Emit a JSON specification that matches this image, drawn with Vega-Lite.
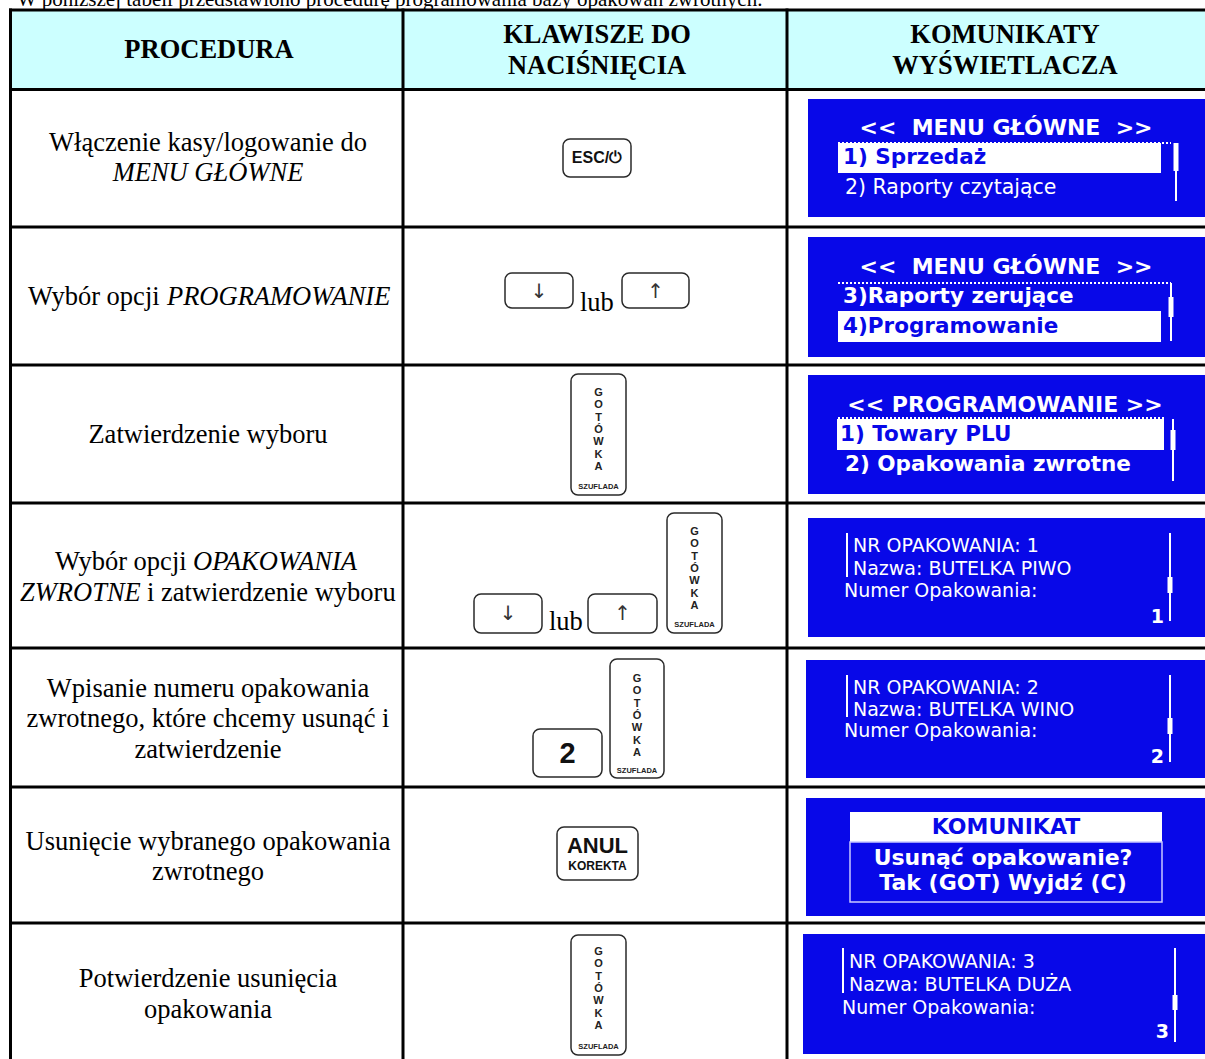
{
  "$schema": "https://vega.github.io/schema/vega-lite/v6.json",
  "width": 1205,
  "height": 1059,
  "autosize": {"type": "none"},
  "padding": 0,
  "background": "white",
  "config": {"view": {"stroke": null}},
  "datasets": {
    "header": [{"x": 10, "x2": 1205, "y": 10, "y2": 89}],
    "grid": [
      {"x": 9, "x2": 1205, "y": 10, "y2": 10},
      {"x": 9, "x2": 1205, "y": 89.5, "y2": 89.5},
      {"x": 9, "x2": 1205, "y": 227, "y2": 227},
      {"x": 9, "x2": 1205, "y": 365, "y2": 365},
      {"x": 9, "x2": 1205, "y": 503, "y2": 503},
      {"x": 9, "x2": 1205, "y": 648, "y2": 648},
      {"x": 9, "x2": 1205, "y": 787, "y2": 787},
      {"x": 9, "x2": 1205, "y": 923, "y2": 923},
      {"x": 10.5, "x2": 10.5, "y": 8.5, "y2": 1060},
      {"x": 403, "x2": 403, "y": 8.5, "y2": 1060},
      {"x": 787, "x2": 787, "y": 8.5, "y2": 1060}
    ],
    "screens": [
      {"x": 808, "x2": 1205, "y": 99, "y2": 217},
      {"x": 808, "x2": 1205, "y": 237, "y2": 357},
      {"x": 808, "x2": 1205, "y": 375, "y2": 494},
      {"x": 808, "x2": 1205, "y": 518, "y2": 637},
      {"x": 806, "x2": 1205, "y": 660, "y2": 778},
      {"x": 806, "x2": 1205, "y": 798, "y2": 916},
      {"x": 803, "x2": 1205, "y": 934, "y2": 1054}
    ],
    "bars": [
      {"x": 838, "x2": 1161, "y": 143, "y2": 173},
      {"x": 838, "x2": 1161, "y": 311, "y2": 342},
      {"x": 837, "x2": 1164, "y": 419, "y2": 450},
      {"x": 850, "x2": 1162, "y": 812, "y2": 842}
    ],
    "outline": [{"x": 850, "x2": 1162, "y": 842, "y2": 902}],
    "dotted": [
      {"x": 838, "x2": 1171, "y": 143, "y2": 143},
      {"x": 838, "x2": 1171, "y": 283, "y2": 283},
      {"x": 838, "x2": 1164, "y": 418, "y2": 418}
    ],
    "thin": [
      {"x": 1176, "x2": 1176, "y": 143, "y2": 201},
      {"x": 1171, "x2": 1171, "y": 283, "y2": 341},
      {"x": 1173, "x2": 1173, "y": 419, "y2": 481},
      {"x": 847, "x2": 847, "y": 533, "y2": 577},
      {"x": 1170, "x2": 1170, "y": 533, "y2": 621},
      {"x": 847, "x2": 847, "y": 675, "y2": 717},
      {"x": 1170, "x2": 1170, "y": 675, "y2": 762},
      {"x": 843, "x2": 843, "y": 948, "y2": 993},
      {"x": 1175, "x2": 1175, "y": 948, "y2": 1042}
    ],
    "thick": [
      {"x": 1176, "x2": 1176, "y": 143, "y2": 171},
      {"x": 1171, "x2": 1171, "y": 297, "y2": 317},
      {"x": 1173, "x2": 1173, "y": 430, "y2": 450},
      {"x": 1170, "x2": 1170, "y": 577, "y2": 593},
      {"x": 1170, "x2": 1170, "y": 718, "y2": 734},
      {"x": 1175, "x2": 1175, "y": 995, "y2": 1010}
    ],
    "keys": [
      {"x": 563, "x2": 631, "y": 139, "y2": 177},
      {"x": 505, "x2": 573, "y": 273, "y2": 308},
      {"x": 622, "x2": 689, "y": 273, "y2": 308},
      {"x": 571, "x2": 626, "y": 374, "y2": 495},
      {"x": 474, "x2": 542, "y": 594, "y2": 633},
      {"x": 588, "x2": 657, "y": 594, "y2": 633},
      {"x": 667, "x2": 722, "y": 513, "y2": 633},
      {"x": 533, "x2": 602, "y": 729, "y2": 777},
      {"x": 610, "x2": 664, "y": 659, "y2": 778},
      {"x": 557, "x2": 638, "y": 827, "y2": 880},
      {"x": 571, "x2": 626, "y": 935, "y2": 1055}
    ],
    "caption": [{"x": 17, "y": 6, "t": "W poniższej tabeli przedstawiono procedurę programowania bazy opakowań zwrotnych."}],
    "headText": [
      {"x": 209, "y": 50, "t": "PROCEDURA"},
      {"x": 597, "y": 35, "t": "KLAWISZE DO"},
      {"x": 597, "y": 66, "t": "NACIŚNIĘCIA"},
      {"x": 1005, "y": 35, "t": "KOMUNIKATY"},
      {"x": 1005, "y": 66, "t": "WYŚWIETLACZA"}
    ],
    "bodyCenter": [
      {"x": 208, "y": 143, "t": "Włączenie kasy/logowanie do"},
      {"x": 208, "y": 435, "t": "Zatwierdzenie wyboru"},
      {"x": 208, "y": 689, "t": "Wpisanie numeru opakowania"},
      {"x": 208, "y": 719, "t": "zwrotnego, które chcemy usunąć i"},
      {"x": 208, "y": 750, "t": "zatwierdzenie"},
      {"x": 208, "y": 842, "t": "Usunięcie wybranego opakowania"},
      {"x": 208, "y": 872, "t": "zwrotnego"},
      {"x": 208, "y": 979, "t": "Potwierdzenie usunięcia"},
      {"x": 208, "y": 1010, "t": "opakowania"}
    ],
    "bodyItalicCenter": [{"x": 208, "y": 173, "t": "MENU GŁÓWNE"}],
    "bodyLeft": [
      {"x": 28, "y": 297, "t": "Wybór opcji"},
      {"x": 55, "y": 562, "t": "Wybór opcji"},
      {"x": 147, "y": 593, "t": "i zatwierdzenie wyboru"},
      {"x": 580, "y": 303, "t": "lub"},
      {"x": 549, "y": 622, "t": "lub"}
    ],
    "bodyItalicLeft": [
      {"x": 167, "y": 297, "t": "PROGRAMOWANIE"},
      {"x": 193, "y": 562, "t": "OPAKOWANIA"},
      {"x": 20, "y": 593, "t": "ZWROTNE"}
    ],
    "screenTitle": [
      {"x": 1006, "y": 128, "t": "<<\u00a0 MENU GŁÓWNE \u00a0>>"},
      {"x": 1006, "y": 267, "t": "<<\u00a0 MENU GŁÓWNE \u00a0>>"},
      {"x": 1005, "y": 405, "t": "<< PROGRAMOWANIE >>"},
      {"x": 1003, "y": 858, "t": "Usunąć opakowanie?"},
      {"x": 1003, "y": 883, "t": "Tak (GOT) Wyjdź (C)"}
    ],
    "screenBlueCenter": [{"x": 1006, "y": 827, "t": "KOMUNIKAT"}],
    "screenBlueLeft": [
      {"x": 843, "y": 158, "t": "1) Sprzedaż"},
      {"x": 843, "y": 327, "t": "4)Programowanie"},
      {"x": 840, "y": 435, "t": "1) Towary PLU"}
    ],
    "screenWhiteBoldLeft": [
      {"x": 843, "y": 297, "t": "3)Raporty zerujące"},
      {"x": 845, "y": 465, "t": "2) Opakowania zwrotne"}
    ],
    "screenMenuLeft": [
      {"x": 845, "y": 188, "t": "2) Raporty czytające"}
    ],
    "screenWhiteLeft": [
      {"x": 853, "y": 546, "t": "NR OPAKOWANIA: 1"},
      {"x": 853, "y": 569, "t": "Nazwa: BUTELKA PIWO"},
      {"x": 844, "y": 591, "t": "Numer Opakowania:"},
      {"x": 853, "y": 688, "t": "NR OPAKOWANIA: 2"},
      {"x": 853, "y": 710, "t": "Nazwa: BUTELKA WINO"},
      {"x": 844, "y": 731, "t": "Numer Opakowania:"},
      {"x": 849, "y": 962, "t": "NR OPAKOWANIA: 3"},
      {"x": 849, "y": 985, "t": "Nazwa: BUTELKA DUŻA"},
      {"x": 842, "y": 1008, "t": "Numer Opakowania:"}
    ],
    "screenDigits": [
      {"x": 1164, "y": 617, "t": "1"},
      {"x": 1164, "y": 757, "t": "2"},
      {"x": 1169, "y": 1032, "t": "3"}
    ],
    "keyEsc": [{"x": 597, "y": 158, "t": "ESC/⏻"}],
    "keyArrows": [
      {"x": 539, "y": 292, "t": "↓"},
      {"x": 655.5, "y": 292, "t": "↑"},
      {"x": 508, "y": 614, "t": "↓"},
      {"x": 622.5, "y": 614, "t": "↑"}
    ],
    "keyBig": [{"x": 567.5, "y": 754, "t": "2"}],
    "keyAnul": [{"x": 597.5, "y": 846, "t": "ANUL"}],
    "keySmall": [{"x": 597.5, "y": 866, "t": "KOREKTA"}],
    "gotLetters": [
      {"x": 598.5, "y": 393, "t": "G\nO\nT\nÓ\nW\nK\nA"},
      {"x": 694.5, "y": 532, "t": "G\nO\nT\nÓ\nW\nK\nA"},
      {"x": 637, "y": 679, "t": "G\nO\nT\nÓ\nW\nK\nA"},
      {"x": 598.5, "y": 952, "t": "G\nO\nT\nÓ\nW\nK\nA"}
    ],
    "szuflada": [
      {"x": 598.5, "y": 487, "t": "SZUFLADA"},
      {"x": 694.5, "y": 625, "t": "SZUFLADA"},
      {"x": 637, "y": 771, "t": "SZUFLADA"},
      {"x": 598.5, "y": 1047, "t": "SZUFLADA"}
    ]
  },
  "encoding": {
    "x": {"field": "x", "type": "quantitative", "scale": {"domain": [0, 1205], "nice": false, "zero": false}, "axis": null},
    "y": {"field": "y", "type": "quantitative", "scale": {"domain": [0, 1059], "reverse": true, "nice": false, "zero": false}, "axis": null}
  },
  "layer": [
    {"data": {"name": "header"}, "mark": {"type": "rect", "fill": "#ccffff"}, "encoding": {"x2": {"field": "x2"}, "y2": {"field": "y2"}}},
    {"data": {"name": "screens"}, "mark": {"type": "rect", "fill": "#0808e8"}, "encoding": {"x2": {"field": "x2"}, "y2": {"field": "y2"}}},
    {"data": {"name": "bars"}, "mark": {"type": "rect", "fill": "#ffffff"}, "encoding": {"x2": {"field": "x2"}, "y2": {"field": "y2"}}},
    {"data": {"name": "outline"}, "mark": {"type": "rect", "fill": null, "stroke": "#c8c8ff", "strokeWidth": 1.5}, "encoding": {"x2": {"field": "x2"}, "y2": {"field": "y2"}}},
    {"data": {"name": "dotted"}, "mark": {"type": "rule", "color": "#ffffff", "strokeWidth": 2, "strokeDash": [2, 2]}, "encoding": {"x2": {"field": "x2"}, "y2": {"field": "y2"}}},
    {"data": {"name": "thin"}, "mark": {"type": "rule", "color": "#ffffff", "strokeWidth": 2}, "encoding": {"x2": {"field": "x2"}, "y2": {"field": "y2"}}},
    {"data": {"name": "thick"}, "mark": {"type": "rule", "color": "#ffffff", "strokeWidth": 5}, "encoding": {"x2": {"field": "x2"}, "y2": {"field": "y2"}}},
    {"data": {"name": "keys"}, "mark": {"type": "rect", "fill": "#ffffff", "stroke": "#2a2a2a", "strokeWidth": 1.5, "cornerRadius": 7}, "encoding": {"x2": {"field": "x2"}, "y2": {"field": "y2"}}},
    {"data": {"name": "grid"}, "mark": {"type": "rule", "color": "#000000", "strokeWidth": 3}, "encoding": {"x2": {"field": "x2"}, "y2": {"field": "y2"}}},
    {"data": {"name": "caption"}, "mark": {"type": "text", "font": "Liberation Serif", "fontSize": 21, "align": "left", "baseline": "alphabetic", "color": "#000000"}, "encoding": {"text": {"field": "t"}}},
    {"data": {"name": "headText"}, "mark": {"type": "text", "font": "Liberation Serif", "fontSize": 26.5, "fontWeight": "bold", "align": "center", "baseline": "middle", "color": "#000000"}, "encoding": {"text": {"field": "t"}}},
    {"data": {"name": "bodyCenter"}, "mark": {"type": "text", "font": "Liberation Serif", "fontSize": 26.5, "align": "center", "baseline": "middle", "color": "#000000"}, "encoding": {"text": {"field": "t"}}},
    {"data": {"name": "bodyItalicCenter"}, "mark": {"type": "text", "font": "Liberation Serif", "fontSize": 26.5, "fontStyle": "italic", "align": "center", "baseline": "middle", "color": "#000000"}, "encoding": {"text": {"field": "t"}}},
    {"data": {"name": "bodyLeft"}, "mark": {"type": "text", "font": "Liberation Serif", "fontSize": 26.5, "align": "left", "baseline": "middle", "color": "#000000"}, "encoding": {"text": {"field": "t"}}},
    {"data": {"name": "bodyItalicLeft"}, "mark": {"type": "text", "font": "Liberation Serif", "fontSize": 26.5, "fontStyle": "italic", "align": "left", "baseline": "middle", "color": "#000000"}, "encoding": {"text": {"field": "t"}}},
    {"data": {"name": "screenTitle"}, "mark": {"type": "text", "font": "DejaVu Sans", "fontSize": 22, "fontWeight": "bold", "align": "center", "baseline": "middle", "color": "#ffffff"}, "encoding": {"text": {"field": "t"}}},
    {"data": {"name": "screenBlueCenter"}, "mark": {"type": "text", "font": "DejaVu Sans", "fontSize": 22, "fontWeight": "bold", "align": "center", "baseline": "middle", "color": "#0808e8"}, "encoding": {"text": {"field": "t"}}},
    {"data": {"name": "screenBlueLeft"}, "mark": {"type": "text", "font": "DejaVu Sans", "fontSize": 21.5, "fontWeight": "bold", "align": "left", "baseline": "middle", "color": "#0808e8"}, "encoding": {"text": {"field": "t"}}},
    {"data": {"name": "screenWhiteBoldLeft"}, "mark": {"type": "text", "font": "DejaVu Sans", "fontSize": 21.5, "fontWeight": "bold", "align": "left", "baseline": "middle", "color": "#ffffff"}, "encoding": {"text": {"field": "t"}}},
    {"data": {"name": "screenMenuLeft"}, "mark": {"type": "text", "font": "DejaVu Sans", "fontSize": 20.5, "align": "left", "baseline": "middle", "color": "#ffffff"}, "encoding": {"text": {"field": "t"}}},
    {"data": {"name": "screenWhiteLeft"}, "mark": {"type": "text", "font": "DejaVu Sans", "fontSize": 19, "align": "left", "baseline": "middle", "color": "#ffffff"}, "encoding": {"text": {"field": "t"}}},
    {"data": {"name": "screenDigits"}, "mark": {"type": "text", "font": "DejaVu Sans", "fontSize": 19, "fontWeight": "bold", "align": "right", "baseline": "middle", "color": "#ffffff"}, "encoding": {"text": {"field": "t"}}},
    {"data": {"name": "keyEsc"}, "mark": {"type": "text", "font": "Liberation Sans", "fontSize": 16, "fontWeight": "bold", "align": "center", "baseline": "middle", "color": "#111111"}, "encoding": {"text": {"field": "t"}}},
    {"data": {"name": "keyArrows"}, "mark": {"type": "text", "font": "DejaVu Sans", "fontSize": 20, "align": "center", "baseline": "middle", "color": "#333333"}, "encoding": {"text": {"field": "t"}}},
    {"data": {"name": "keyBig"}, "mark": {"type": "text", "font": "Liberation Sans", "fontSize": 29, "fontWeight": "bold", "align": "center", "baseline": "middle", "color": "#111111"}, "encoding": {"text": {"field": "t"}}},
    {"data": {"name": "keyAnul"}, "mark": {"type": "text", "font": "Liberation Sans", "fontSize": 22, "fontWeight": "bold", "align": "center", "baseline": "middle", "color": "#111111"}, "encoding": {"text": {"field": "t"}}},
    {"data": {"name": "keySmall"}, "mark": {"type": "text", "font": "Liberation Sans", "fontSize": 12, "fontWeight": "bold", "align": "center", "baseline": "middle", "color": "#111111"}, "encoding": {"text": {"field": "t"}}},
    {"data": {"name": "gotLetters"}, "mark": {"type": "text", "font": "Liberation Sans", "fontSize": 11, "fontWeight": "bold", "align": "center", "baseline": "middle", "lineBreak": "\n", "lineHeight": 12.3, "color": "#222222"}, "encoding": {"text": {"field": "t"}}},
    {"data": {"name": "szuflada"}, "mark": {"type": "text", "font": "Liberation Sans", "fontSize": 7.5, "fontWeight": "bold", "align": "center", "baseline": "middle", "color": "#222222"}, "encoding": {"text": {"field": "t"}}}
  ]
}
